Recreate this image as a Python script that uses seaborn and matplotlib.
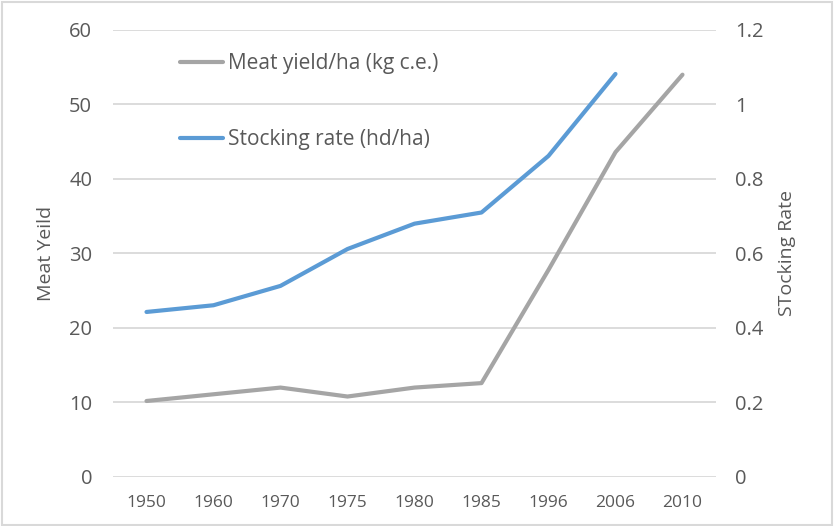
import numpy as np
import pandas as pd
import matplotlib
matplotlib.use("Agg")
import matplotlib.pyplot as plt
import seaborn as sns

years = ["1950", "1960", "1970", "1975", "1980", "1985", "1996", "2006", "2010"]
meat_yield = [10.2, 11.1, 12.0, 10.8, 12.0, 12.6, 27.8, 43.6, 54.0]
stocking_rate = [0.443, 0.461, 0.513, 0.612, 0.68, 0.71, 0.862, 1.082, np.nan]

GRAY = "#A5A5A5"
BLUE = "#5B9BD5"
TEXT = "#595959"
GRID = "#D9D9D9"

sns.set_theme(style="white")
plt.rcParams["font.family"] = ["Open Sans", "DejaVu Sans"]

df = pd.DataFrame({"year": years, "meat": meat_yield, "stock": stocking_rate})

fig = plt.figure(figsize=(8.34, 5.26), dpi=100)
ax = fig.add_axes([0.1355, 0.0932, 0.723, 0.8498])
ax2 = ax.twinx()

sns.lineplot(data=df, x="year", y="meat", ax=ax, color=GRAY, linewidth=3,
             label="Meat yield/ha (kg c.e.)", legend=False)
sns.lineplot(data=df, x="year", y="stock", ax=ax2, color=BLUE, linewidth=3,
             label="Stocking rate (hd/ha)", legend=False)

ax.set_xlim(-0.5, len(years) - 0.5)
ax.set_ylim(0, 60)
ax.set_yticks(np.arange(0, 61, 10))
ax2.set_ylim(0, 1.2)
ax2.set_yticks([0, 0.2, 0.4, 0.6, 0.8, 1.0, 1.2])
ax2.set_yticklabels(["0", "0.2", "0.4", "0.6", "0.8", "1", "1.2"])

ax.grid(axis="y", color=GRID, linewidth=1.3)
ax.set_axisbelow(True)
for a in (ax, ax2):
    for s in a.spines.values():
        s.set_visible(False)
    a.tick_params(length=0, colors=TEXT)

ax.tick_params(axis="y", labelsize=14.5, pad=15)
ax2.tick_params(axis="y", labelsize=14.5, pad=14)
ax.tick_params(axis="x", labelsize=12.5, pad=13)

ax.set_xlabel("")
ax.set_ylabel("Meat Yeild", color=TEXT, fontsize=14, labelpad=10)
ax2.set_ylabel("STocking Rate", color=TEXT, fontsize=14, labelpad=10)

h1, l1 = ax.get_legend_handles_labels()
h2, l2 = ax2.get_legend_handles_labels()
leg = ax2.legend(h1 + h2, l1 + l2, loc="upper left", bbox_to_anchor=(0.08, 0.99),
                 frameon=False, fontsize=15, labelspacing=2.64, handlelength=2.07,
                 handletextpad=0.25, labelcolor=TEXT)

fig.patches.append(plt.Rectangle((0.002, 0.002), 0.996, 0.994, transform=fig.transFigure,
                                 fill=False, edgecolor="#D9D9D9", linewidth=1.5))

fig.savefig("out.png", dpi=100)
